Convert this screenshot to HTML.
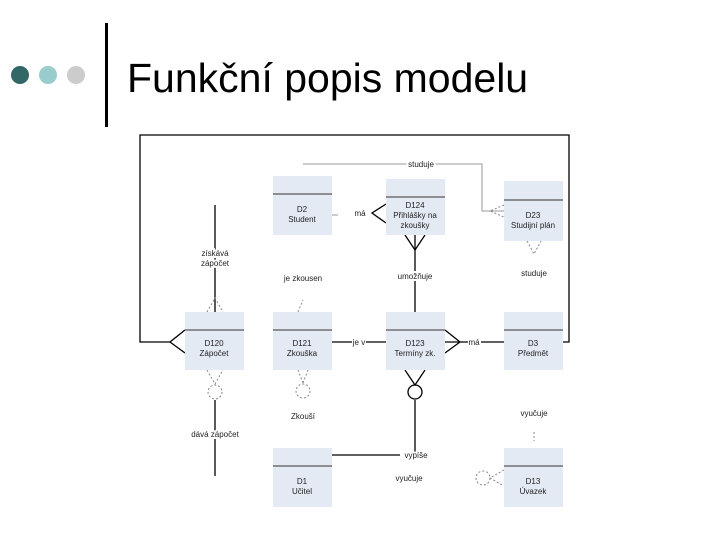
<!DOCTYPE html>
<html><head><meta charset="utf-8"><style>
html,body{margin:0;padding:0;background:#fff;width:720px;height:540px;overflow:hidden}
svg{display:block}
text{font-family:"Liberation Sans",sans-serif}
</style></head><body>
<svg width="720" height="540" viewBox="0 0 720 540" xmlns="http://www.w3.org/2000/svg">
<circle cx="20" cy="75" r="9" fill="#336666"/>
<circle cx="48" cy="75" r="9" fill="#99cccc"/>
<circle cx="76" cy="75" r="9" fill="#cccccc"/>
<rect x="105" y="23" width="3" height="104" fill="#000"/>
<text x="127" y="92" font-size="41" fill="#000">Funkční popis modelu</text>

<g stroke="#000" stroke-width="1.3" fill="none">
<polyline points="170,342 140,342 140,135 569,135 569,342 563,342"/>
<line x1="215" y1="205" x2="215" y2="312"/>
<line x1="415" y1="235" x2="415" y2="312"/>
<line x1="215" y1="400" x2="215" y2="476"/>
<line x1="415" y1="400" x2="415" y2="455"/>
<line x1="332" y1="455" x2="400" y2="455"/>
<line x1="332" y1="342" x2="352" y2="342"/>
<line x1="366" y1="342" x2="386" y2="342"/>
<line x1="445" y1="342" x2="468" y2="342"/>
<line x1="481" y1="342" x2="504" y2="342"/>
<circle cx="415" cy="392" r="7"/>
<polyline points="185,330 170,342 185,353"/>
<polyline points="445,330 460,342 445,353"/>
<polyline points="405,235 415,250 425,235"/>
<polyline points="405,370 415,385 425,370"/>
<polyline points="386,204 372,213 386,223"/>
</g>
<g stroke="#999" stroke-width="1" fill="none">
<polyline points="303,164 482,164 482,211 504,211"/>
<line x1="332" y1="215" x2="338" y2="215"/>
</g>
<g stroke="#888" stroke-width="1" fill="none" stroke-dasharray="2,2">
<polyline points="207,312 215,298 223,312"/>
<polyline points="207,370 215,384 223,370"/>
<circle cx="215" cy="392" r="7"/>
<circle cx="303" cy="391" r="7"/>
<line x1="298" y1="370" x2="303" y2="383"/>
<line x1="308" y1="370" x2="303" y2="383"/>
<line x1="298" y1="312" x2="303" y2="300"/>
<polyline points="504,205 490,211 504,217"/>
<polyline points="527,241 534,254 541,241"/>
<line x1="534" y1="432" x2="534" y2="441"/>
<circle cx="483" cy="478" r="7"/>
<polyline points="504,470 490,478 504,486"/>
</g>

<g fill="#e4eaf4">
<rect x="273" y="176" width="59" height="59"/>
<rect x="386" y="179" width="59" height="56"/>
<rect x="504" y="181" width="59" height="60"/>
<rect x="185" y="312" width="59" height="58"/>
<rect x="273" y="312" width="59" height="58"/>
<rect x="386" y="312" width="59" height="58"/>
<rect x="504" y="312" width="59" height="58"/>
<rect x="273" y="448" width="59" height="59"/>
<rect x="504" y="448" width="59" height="59"/>
</g>
<g stroke="#333" stroke-width="1">
<line x1="273" y1="194" x2="332" y2="194"/>
<line x1="386" y1="197" x2="445" y2="197"/>
<line x1="504" y1="200" x2="563" y2="200"/>
<line x1="185" y1="330" x2="244" y2="330"/>
<line x1="273" y1="330" x2="332" y2="330"/>
<line x1="386" y1="330" x2="445" y2="330"/>
<line x1="504" y1="330" x2="563" y2="330"/>
<line x1="273" y1="466" x2="332" y2="466"/>
<line x1="504" y1="466" x2="563" y2="466"/>
</g>
<g font-size="8" fill="#222" text-anchor="middle">
<text x="302" y="212">D2</text><text x="302" y="222">Student</text>
<text x="415" y="208">D124</text><text x="415" y="218">Přihlášky na</text><text x="415" y="228">zkoušky</text>
<text x="533" y="218">D23</text><text x="533" y="228">Studijní plán</text>
<text x="214" y="346">D120</text><text x="214" y="356">Zápočet</text>
<text x="302" y="346">D121</text><text x="302" y="356">Zkouška</text>
<text x="415" y="346">D123</text><text x="415" y="356">Termíny zk.</text>
<text x="533" y="346">D3</text><text x="533" y="356">Předmět</text>
<text x="302" y="484">D1</text><text x="302" y="494">Učitel</text>
<text x="533" y="484">D13</text><text x="533" y="494">Úvazek</text>
<text x="421" y="167" style="paint-order:stroke" stroke="#fff" stroke-width="4">studuje</text>
<text x="360" y="216">má</text>
<text x="215" y="256" style="paint-order:stroke" stroke="#fff" stroke-width="4">získává</text>
<text x="215" y="266" style="paint-order:stroke" stroke="#fff" stroke-width="4">zápočet</text>
<text x="303" y="281">je zkousen</text>
<text x="415" y="279" style="paint-order:stroke" stroke="#fff" stroke-width="4">umožňuje</text>
<text x="534" y="276">studuje</text>
<text x="359" y="345">je v</text>
<text x="474" y="345">má</text>
<text x="303" y="419">Zkouší</text>
<text x="215" y="437" style="paint-order:stroke" stroke="#fff" stroke-width="4">dává zápočet</text>
<text x="416" y="458" style="paint-order:stroke" stroke="#fff" stroke-width="4">vypíše</text>
<text x="409" y="481">vyučuje</text>
<text x="534" y="416">vyučuje</text>
</g>
</svg>
</body></html>
